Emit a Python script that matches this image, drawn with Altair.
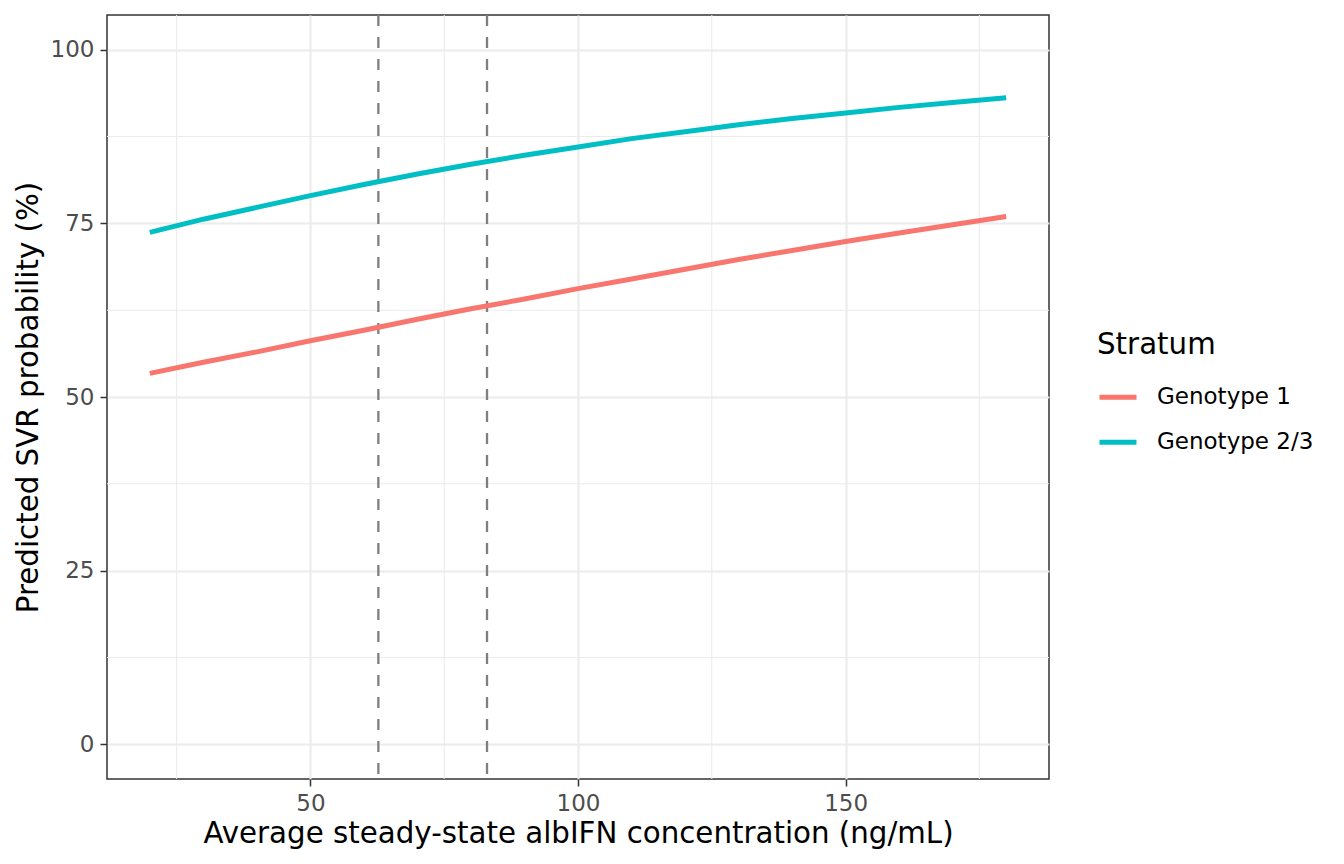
import pandas as pd
import altair as alt

# Values
conc = [20, 30, 40, 50, 60, 70, 80, 90, 100, 110, 120, 130, 140, 150, 160, 170, 180]
svr_g1 = [53.4, 55.0, 56.5, 58.1, 59.6, 61.2, 62.7, 64.1, 65.6, 67.0, 68.4,
          69.8, 71.1, 72.4, 73.6, 74.8, 76.0]
svr_g23 = [73.7, 75.6, 77.3, 79.0, 80.6, 82.1, 83.5, 84.8, 86.0, 87.2, 88.2,
           89.2, 90.1, 90.9, 91.7, 92.4, 93.1]
strata = ["Genotype 1", "Genotype 2/3"]
ref_conc = [62.7, 83.0]

x_ticks = [50, 100, 150]
y_ticks = [0, 25, 50, 75, 100]
x_minor = [25, 75, 125, 175]
y_minor = [12.5, 37.5, 62.5, 87.5]

curves = pd.DataFrame({
    "x": conc + conc,
    "y": svr_g1 + svr_g23,
    "Stratum": [strata[0]] * len(conc) + [strata[1]] * len(conc),
})

font = "DejaVu Sans"
xs = alt.Scale(domain=[12, 188], nice=False, zero=False)
ys = alt.Scale(domain=[-5, 105], nice=False, zero=False)
xaxis = alt.Axis(title="Average steady-state albIFN concentration (ng/mL)",
                 values=x_ticks, labelPadding=6,
                 titleBaseline="alphabetic", titleY=63)
yaxis = alt.Axis(title="Predicted SVR probability (%)",
                 values=y_ticks, labelPadding=6,
                 titleBaseline="alphabetic", titleX=-70, titleY=382)

minor_x = alt.Chart(pd.DataFrame({"x": x_minor})).mark_rule(
    color="#EBEBEB", strokeWidth=1.05
).encode(x=alt.X("x:Q", scale=xs, axis=xaxis))

minor_y = alt.Chart(pd.DataFrame({"y": y_minor})).mark_rule(
    color="#EBEBEB", strokeWidth=1.05
).encode(y=alt.Y("y:Q", scale=ys, axis=yaxis))

vlines = alt.Chart(pd.DataFrame({"x": ref_conc})).mark_rule(
    color="#7F7F7F", strokeWidth=2.3, strokeDash=[11, 11]
).encode(x=alt.X("x:Q", scale=xs, axis=xaxis))

lines = alt.Chart(curves).mark_line(strokeWidth=5).encode(
    x=alt.X("x:Q", scale=xs, axis=xaxis),
    y=alt.Y("y:Q", scale=ys, axis=yaxis),
    color=alt.Color("Stratum:N",
                    scale=alt.Scale(domain=strata, range=["#F8766D", "#00BFC4"]),
                    legend=alt.Legend(title="Stratum", orient="none",
                                      legendX=990, legendY=316,
                                      symbolType="stroke", symbolSize=1369,
                                      symbolStrokeWidth=5, labelOffset=18,
                                      rowPadding=12, titlePadding=16,
                                      padding=0)),
)

chart = alt.layer(minor_x, minor_y, vlines, lines).properties(
    width=942,
    height=764,
    autosize=alt.AutoSizeParams(type="none"),
    padding={"left": 99, "top": 7, "right": 287, "bottom": 77},
).configure_view(
    stroke="#333333",
    strokeWidth=1.5,
).configure_axis(
    domain=False,
    grid=True,
    gridColor="#EBEBEB",
    gridWidth=2.1,
    tickColor="#333333",
    tickWidth=1.5,
    tickSize=7,
    labelFont=font,
    labelFontSize=23,
    labelColor="#4D4D4D",
    titleFont=font,
    titleFontSize=29.3,
    titleFontWeight="normal",
    titleColor="black",
).configure_legend(
    titleFont=font,
    titleFontSize=29.3,
    titleFontWeight="normal",
    titleColor="black",
    labelFont=font,
    labelFontSize=23,
    labelColor="black",
)

chart.save("out.html", embed_options={"renderer": "svg", "actions": False})
